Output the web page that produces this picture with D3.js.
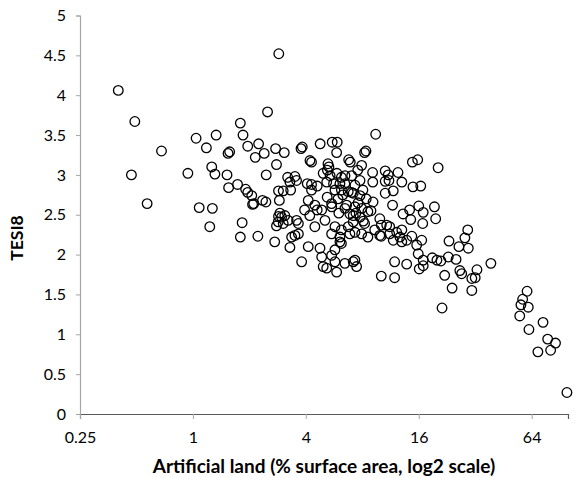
<!DOCTYPE html>
<html>
<head>
<meta charset="utf-8">
<script src="https://cdnjs.cloudflare.com/ajax/libs/d3/7.8.5/d3.min.js"></script>
<style>
    body { margin: 0; background: #fff; }
    text { font-family: Lato, "Open Sans", sans-serif; fill: #000; }
    .tickText { font-size: 16px; }
    .axisTitle { font-size: 19px; font-weight: bold; }
    .yTitle { font-size: 17.5px; font-weight: bold; }
</style>
</head>
<body>
<script>
//artificial land, % surface area (x, log2 axis)
var landPct = [
    0.40,0.49,0.68,0.47,0.57,0.94,1.04,1.18,1.33,1.79,
    2.50,1.85,1.96,2.24,2.40,2.15,2.76,2.79,1.54,1.57,
    1.26,1.31,1.52,1.55,1.73,1.91,1.96,2.06,2.08,2.11,
    2.35,2.45,2.46,2.86,2.89,1.08,1.27,1.23,1.83,1.79,
    2.22,2.73,2.79,2.86,2.87,
    9.43,3.07,3.77,3.83,4.77,5.53,5.88,5.84,8.23,8.37,
    4.21,4.29,5.25,5.31,6.77,6.90,14.8,15.8,3.20,3.50,
    3.57,3.29,3.03,3.32,4.07,4.29,4.60,4.95,5.21,
    20.3,9.08,10.6,11.0,12.4,9.10,10.6,11.1,13.0,14.9,16.4,10.6,11.7,
    11.6,13.2,14.3,16.0,16.9,19.4,19.7,14.5,16.8,
    10.1,10.8,11.2,12.2,13.0,12.7,13.8,14.7,15.6,16.6,10.1,
    29.2,28.2,26.2,29.4,23.2,
    15.9,16.9,18.9,20.0,21.0,23.0,25.3,
    11.9,13.8,16.1,16.9,10.1,11.9,
    22.0,24.1,26.5,27.1,30.7,32.7,32.0,30.7,
    38.8,21.3,
    60.5,57.3,56.1,61.4,55.3,61.9,73.6,77.9,85.8,69.1,80.8,98.7,
    2.91,3.09,3.22,2.85,3.03,2.97,
    3.57,3.65,3.50,3.36,3.65,
    3.29,4.12,4.76,3.80,
    4.86,5.49,5.72,6.08,6.19,
    4.95,5.17,5.72,5.84,6.46,7.16,
    4.12,4.47,4.86,5.49,5.94,6.46,6.87,7.16,5.06,5.72,6.19,6.73,4.47,4.20,3.94,5.49,6.08,6.87,
    7.16,7.78,8.40,9.13,7.31,7.94,8.57,7.16,7.78,8.23,7.31,7.94,8.57,9.32,9.92,9.92,11.2,11.7,13.0,7.31,7.46,
    7.02,6.47,5.39,5.86,6.19,5.17,5.62,6.08,6.46,5.72,6.19,6.73,4.29,
    7.31,7.78,8.06,7.02,7.57,7.94,5.20,6.30,7.60,6.00,5.50,8.90,4.60,6.60,7.40,8.10
];
//TESI8 score (y)
var tesi8 = [
    4.06,3.67,3.30,3.00,2.64,3.02,3.46,3.34,3.50,3.65,
    3.79,3.50,3.36,3.39,3.27,3.22,3.33,3.13,3.27,3.29,
    3.10,3.01,3.00,2.84,2.88,2.82,2.78,2.74,2.63,2.64,
    2.68,2.66,3.00,2.80,2.68,2.59,2.58,2.35,2.40,2.22,
    2.23,2.16,2.36,2.48,4.52,
    3.51,3.28,3.33,3.35,3.39,3.41,3.41,3.28,3.28,3.30,
    3.18,3.16,3.14,3.10,3.19,3.16,3.16,3.19,2.97,2.98,
    2.93,2.91,2.80,2.81,2.89,2.88,2.86,3.02,3.06,
    3.09,3.03,3.05,3.00,3.03,2.91,2.92,2.93,2.91,2.85,2.86,2.77,2.80,
    2.62,2.51,2.56,2.61,2.53,2.60,2.45,2.44,2.39,
    2.37,2.37,2.35,2.28,2.31,2.22,2.18,2.23,2.12,2.18,2.23,
    2.31,2.21,2.10,2.08,2.17,
    2.01,1.93,1.96,1.93,1.92,1.97,1.94,
    1.91,1.88,1.82,1.86,1.73,1.71,
    1.74,1.58,1.80,1.76,1.70,1.81,1.71,1.55,
    1.89,1.33,
    1.54,1.44,1.37,1.34,1.23,1.06,1.15,0.94,0.89,0.78,0.80,0.27,
    2.52,2.49,2.43,2.41,2.39,2.47,
    2.43,2.39,2.24,2.22,2.26,
    2.09,2.10,2.08,1.91,
    1.97,1.99,2.06,2.16,2.14,
    1.85,1.83,1.91,1.78,1.89,1.91,
    2.68,2.62,2.56,2.64,2.70,2.58,2.51,2.41,2.43,2.35,2.31,2.35,2.35,2.49,2.56,2.26,2.22,2.26,
    2.77,2.74,2.70,2.66,2.60,2.58,2.54,2.49,2.47,2.39,2.28,2.26,2.22,2.31,2.45,2.24,2.26,2.18,2.16,1.93,1.85,
    2.99,2.99,2.99,3.02,2.97,2.91,2.89,2.89,2.89,2.81,2.81,2.79,2.81,
    2.87,2.93,2.81,2.78,3.06,3.12,2.72,2.75,2.65,2.52,2.60,2.55,2.56,2.62,2.52,2.42
];
var xTicks = [0.25, 1, 4, 16, 64];
var yTicks = [0, 0.5, 1, 1.5, 2, 2.5, 3, 3.5, 4, 4.5, 5];
var xTitle = "Artificial land (% surface area, log2 scale)",
    yTitle = "TESI8";

//frame dimensions (plotTop, not "top": window.top is read-only)
var width = 583,
    height = 478,
    plotLeft = 80,
    plotRight = 568,
    plotTop = 15.5,
    plotBottom = 414;

var svg = d3.select("body")
    .append("svg")
    .attr("width", width)
    .attr("height", height);

var xScale = d3.scaleLog()
    .base(2)
    .domain([0.25, 100])
    .range([plotLeft, plotRight]);

var yScale = d3.scaleLinear()
    .domain([0, 5])
    .range([plotBottom, plotTop]);

//y axis
var yAxis = svg.append("g")
    .attr("transform", "translate(" + plotLeft + ",0)")
    .call(d3.axisLeft(yScale)
        .tickValues(yTicks)
        .tickSize(4)
        .tickPadding(10)
        .tickFormat(function(d){ return d; }));
yAxis.select(".domain").attr("stroke", "#a6a6a6").attr("stroke-width", 1.2);
yAxis.selectAll(".tick line").attr("stroke", "#a6a6a6");

//x axis
var xAxis = svg.append("g")
    .attr("transform", "translate(0," + plotBottom + ")")
    .call(d3.axisBottom(xScale)
        .tickValues(xTicks)
        .tickSize(5)
        .tickPadding(13)
        .tickFormat(function(d){ return d; }));
xAxis.select(".domain").attr("stroke", "#595959").attr("stroke-width", 1.2);
xAxis.selectAll(".tick line").attr("stroke", "#a6a6a6");

svg.selectAll(".tick text").attr("class", "tickText");
xAxis.attr("font-family", null).attr("font-size", null);
yAxis.attr("font-family", null).attr("font-size", null);

//points
var points = d3.range(landPct.length).map(function(i){
    return { x: landPct[i], y: tesi8[i] };
});
svg.append("g")
    .selectAll("circle")
    .data(points)
    .enter()
    .append("circle")
    .attr("cx", function(d){ return xScale(d.x); })
    .attr("cy", function(d){ return yScale(d.y); })
    .attr("r", 4.8)
    .attr("fill", "none")
    .attr("stroke", "#000")
    .attr("stroke-width", 1.3);

//axis titles
svg.append("text")
    .attr("class", "axisTitle")
    .attr("x", (plotLeft + plotRight) / 2)
    .attr("y", 473)
    .attr("text-anchor", "middle")
    .text(xTitle);

svg.append("text")
    .attr("class", "yTitle")
    .attr("transform", "translate(23,238) rotate(-90)")
    .attr("text-anchor", "middle")
    .text(yTitle);
</script>
</body>
</html>
